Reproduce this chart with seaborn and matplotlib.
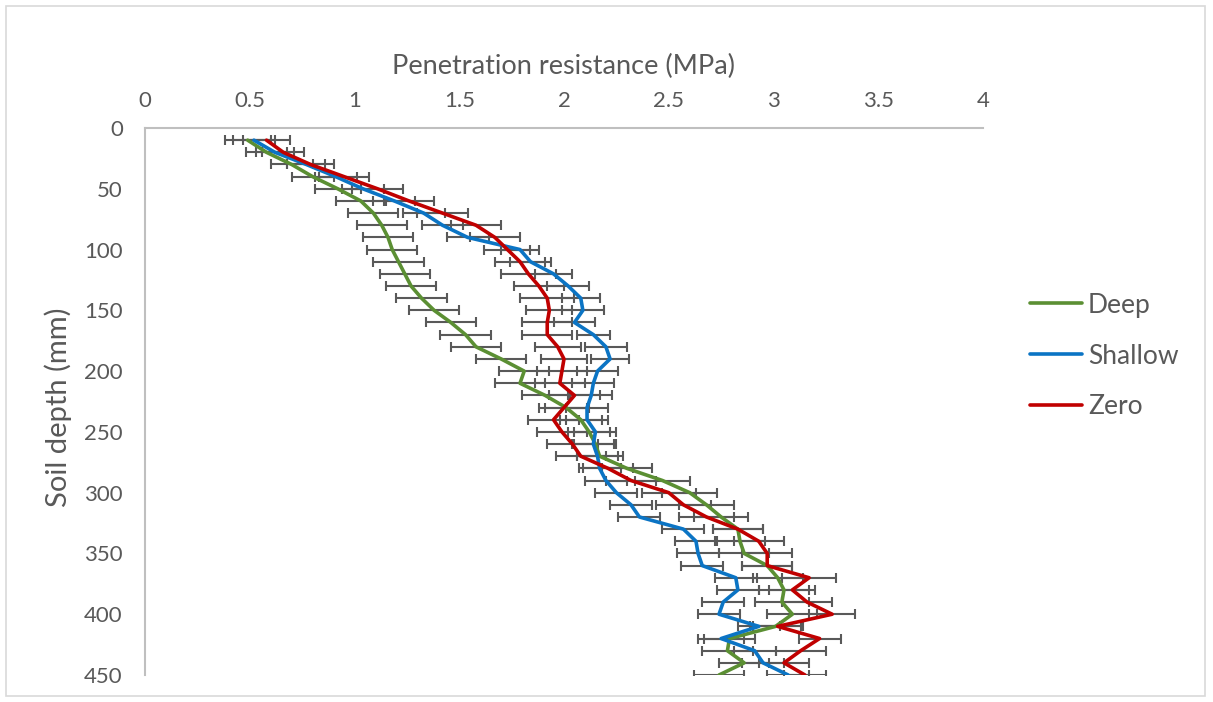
import matplotlib
matplotlib.use("Agg")
import matplotlib.pyplot as plt
import matplotlib.patches as mpatches
import seaborn as sns
import pandas as pd

# soil depth (mm) and penetration resistance (MPa) per tillage treatment
depth = [10, 20, 30, 40, 50, 60, 70, 80, 90, 100,
         110, 120, 130, 140, 150, 160, 170, 180, 190, 200,
         210, 220, 230, 240, 250, 260, 270, 280, 290, 300,
         310, 320, 330, 340, 350, 360, 370, 380, 390, 400,
         410, 420, 430, 440, 450]

deep = [0.49, 0.58, 0.70, 0.80, 0.92, 1.03, 1.09, 1.13, 1.16, 1.18,
        1.21, 1.24, 1.27, 1.32, 1.38, 1.46, 1.53, 1.58, 1.70, 1.81,
        1.79, 1.91, 2.01, 2.08, 2.12, 2.15, 2.17, 2.30, 2.47, 2.60,
        2.68, 2.75, 2.83, 2.84, 2.86, 2.97, 3.02, 3.05, 3.04, 3.09,
        3.01, 2.79, 2.78, 2.86, 2.74]

shallow = [0.52, 0.62, 0.77, 0.91, 1.04, 1.19, 1.33, 1.42, 1.54, 1.79,
           1.84, 1.95, 2.02, 2.08, 2.09, 2.05, 2.14, 2.20, 2.22, 2.16,
           2.14, 2.13, 2.11, 2.11, 2.15, 2.14, 2.16, 2.17, 2.20, 2.25,
           2.32, 2.36, 2.57, 2.63, 2.64, 2.66, 2.82, 2.83, 2.76, 2.74,
           2.93, 2.75, 2.91, 2.95, 3.07]

zero = [0.58, 0.66, 0.79, 0.95, 1.11, 1.26, 1.42, 1.58, 1.67, 1.73,
        1.79, 1.83, 1.88, 1.92, 1.93, 1.92, 1.92, 1.97, 2.00, 1.99,
        1.98, 2.05, 2.00, 1.95, 1.99, 2.04, 2.08, 2.21, 2.32, 2.50,
        2.57, 2.68, 2.83, 2.93, 2.97, 2.97, 3.17, 3.09, 3.16, 3.28,
        3.02, 3.22, 3.13, 3.05, 3.15]

# standard errors (MPa)
deep_err = [0.11, 0.10, 0.10, 0.10, 0.11, 0.12, 0.12, 0.12, 0.12, 0.12,
            0.12, 0.12, 0.12, 0.12, 0.12, 0.12, 0.12, 0.12, 0.12, 0.12,
            0.12, 0.11, 0.10, 0.10, 0.10, 0.10, 0.11, 0.12, 0.13, 0.13,
            0.13, 0.13, 0.12, 0.12, 0.12, 0.12, 0.12, 0.12, 0.13, 0.12,
            0.12, 0.12, 0.12, 0.12, 0.12]

shallow_err = [0.10, 0.09, 0.09, 0.10, 0.10, 0.10, 0.10, 0.10, 0.10, 0.09,
               0.10, 0.09, 0.10, 0.09, 0.10, 0.10, 0.08, 0.10, 0.09, 0.10,
               0.10, 0.10, 0.10, 0.10, 0.10, 0.10, 0.10, 0.10, 0.10, 0.10,
               0.10, 0.10, 0.10, 0.10, 0.10, 0.10, 0.10, 0.10, 0.10, 0.10,
               0.10, 0.11, 0.10, 0.10, 0.10]

zero_err = [0.11, 0.10, 0.11, 0.12, 0.12, 0.12, 0.12, 0.12, 0.12, 0.11,
            0.12, 0.13, 0.12, 0.13, 0.11, 0.12, 0.12, 0.11, 0.11, 0.12,
            0.12, 0.12, 0.12, 0.12, 0.12, 0.12, 0.12, 0.12, 0.12, 0.13,
            0.13, 0.13, 0.12, 0.12, 0.12, 0.12, 0.13, 0.11, 0.12, 0.11,
            0.12, 0.10, 0.12, 0.12, 0.10]

treatments = ["Deep", "Shallow", "Zero"]
colors = {"Deep": "#5b8f33", "Shallow": "#0b74c4", "Zero": "#c00000"}

frames = []
for name, vals, errs in zip(treatments, [deep, shallow, zero],
                            [deep_err, shallow_err, zero_err]):
    frames.append(pd.DataFrame({"Depth": depth, "PR": vals, "err": errs,
                                "Treatment": name}))
data = pd.concat(frames, ignore_index=True)

sns.set_theme(style="white")
plt.rcParams["font.family"] = ["Lato", "DejaVu Sans"]
grey = "#595959"

fig = plt.figure(figsize=(12.13, 7.02), dpi=100)
ax = fig.add_axes([145 / 1213, 1 - 675 / 702, 838 / 1213, 547 / 702])

# error bars first, lines on top
for name in treatments:
    sub = data[data["Treatment"] == name]
    ax.errorbar(sub["PR"], sub["Depth"], xerr=sub["err"], fmt="none",
                ecolor=grey, elinewidth=1.5, capsize=3.6, capthick=1.5,
                zorder=1)

sns.lineplot(data=data, x="PR", y="Depth", hue="Treatment", palette=colors,
             sort=False, estimator=None, orient="y", linewidth=2.6, ax=ax,
             zorder=3)

ax.set_xlim(0, 4)
ax.set_ylim(450, 0)
ax.set_xticks([0, 0.5, 1, 1.5, 2, 2.5, 3, 3.5, 4])
ax.set_xticklabels(["0", "0.5", "1", "1.5", "2", "2.5", "3", "3.5", "4"])
ax.set_yticks(range(0, 451, 50))
ax.xaxis.tick_top()
ax.xaxis.set_label_position("top")
ax.tick_params(axis="both", length=0, labelsize=16, colors=grey)
ax.tick_params(axis="x", pad=12.5)
ax.tick_params(axis="y", pad=16)

for side in ["bottom", "right"]:
    ax.spines[side].set_visible(False)
for side in ["top", "left"]:
    ax.spines[side].set_color("#bfbfbf")
    ax.spines[side].set_linewidth(1.5)

ax.set_xlabel("Penetration resistance (MPa)", fontsize=19.5, color=grey)
ax.xaxis.set_label_coords(0.5, 1.099)
ax.set_ylabel("Soil depth (mm)", fontsize=21, color=grey)
ax.yaxis.set_label_coords(-0.087, 0.49)

ax.legend(loc="center left", bbox_to_anchor=(1030 / 1213, 1 - 356 / 702),
          bbox_transform=fig.transFigure, frameon=False, fontsize=19,
          labelcolor=grey, handlelength=1.97, handletextpad=0.23,
          labelspacing=0.98, borderpad=0, borderaxespad=0)
for line in ax.get_legend().get_lines():
    line.set_linewidth(2.6)

# chart area border
fig.patches.append(mpatches.Rectangle((6 / 1213, 6 / 702), 1199 / 1213,
                                      690 / 702, transform=fig.transFigure,
                                      fill=False, edgecolor="#d9d9d9",
                                      linewidth=1.2))

fig.savefig("out.png", dpi=100)
